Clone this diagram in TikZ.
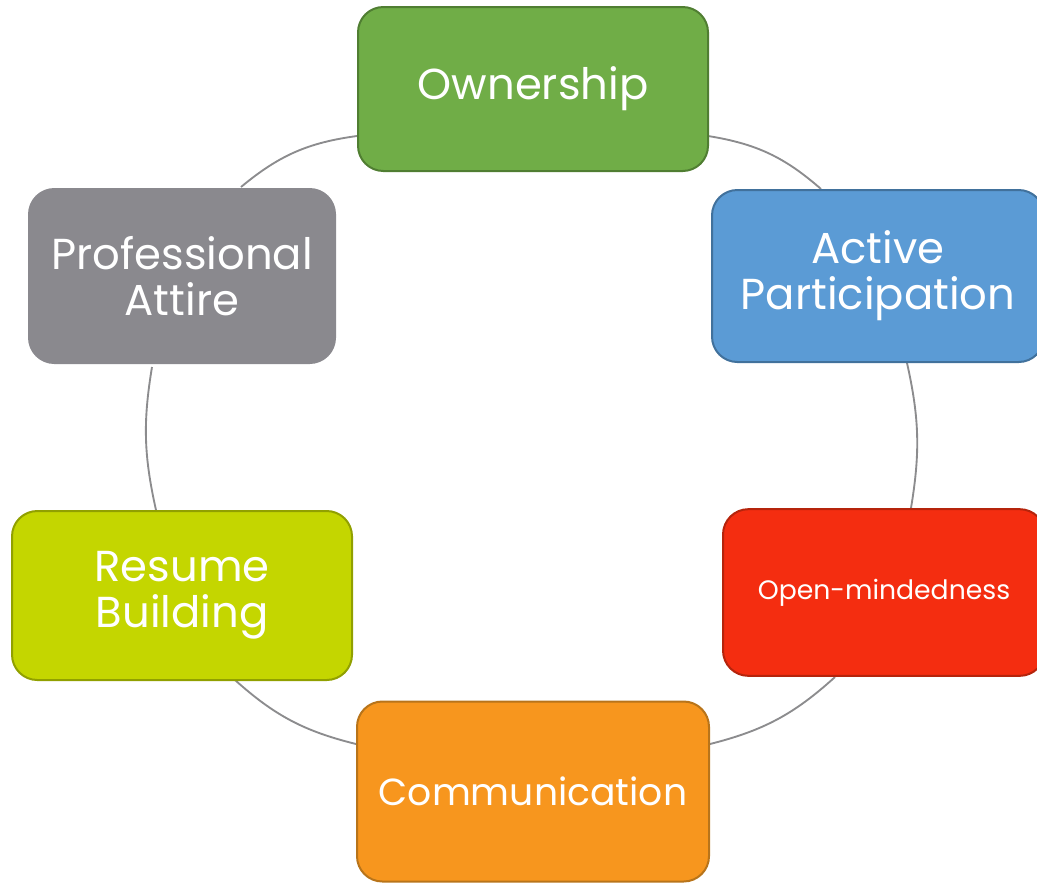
\documentclass[tikz,border=0pt]{standalone}
\usepackage{fontspec}
\setmainfont{Poppins}
\begin{document}
\begin{tikzpicture}[x=0.75pt,y=-0.75pt,
  box/.style={rectangle, rounded corners=19pt, line width=1.5pt, inner sep=0pt,
    text=white, align=center, font=\fontsize{32.5}{34.5}\selectfont},
  link/.style={draw=linkgray, line width=1.4pt}]
\definecolor{linkgray}{HTML}{8C8C8E}
\definecolor{gfill}{HTML}{70AD47}\definecolor{gline}{HTML}{507E32}
\definecolor{bfill}{HTML}{5B9BD5}\definecolor{bline}{HTML}{41719C}
\definecolor{afill}{HTML}{8A898E}
\definecolor{rfill}{HTML}{F42D10}\definecolor{rline}{HTML}{B5240C}
\definecolor{ofill}{HTML}{F7961E}\definecolor{oline}{HTML}{B8741A}
\definecolor{lfill}{HTML}{C4D600}\definecolor{lline}{HTML}{91A000}
\useasboundingbox (0,0) rectangle (1037,882);
% connectors
\coordinate (c1a) at (357,136); \coordinate (c1b) at (241,187);
\coordinate (c2a) at (152,367); \coordinate (c2b) at (156,510);
\coordinate (c3a) at (235,680); \coordinate (c3b) at (356,744);
\coordinate (c4a) at (710,744); \coordinate (c4b) at (835,677);
\coordinate (c5a) at (911,508); \coordinate (c5b) at (907,363);
\coordinate (c6a) at (821,189); \coordinate (c6b) at (708,136);
\draw[link] (c1a) to[bend right=16] (c1b);
\draw[link] (c2a) to[bend right=11] (c2b);
\draw[link] (c3a) to[bend right=14] (c3b);
\draw[link] (c4a) to[bend right=14] (c4b);
\draw[link] (c5a) to[bend right=11] (c5b);
\draw[link] (c6a) to[bend right=16] (c6b);
% boxes
\node[box, fill=gfill, draw=gline, minimum width=262.5pt, minimum height=123pt] (own) at (533,89) {Ownership};
\node[box, fill=bfill, draw=bline, minimum width=249pt, minimum height=129pt] (act) at (878,276) {Active\\Participation};
\node[box, fill=rfill, draw=rline, minimum width=241.5pt, minimum height=125pt, font=\fontsize{20}{24}\selectfont] (open) at (884,592.5) {Open-mindedness};
\node[box, fill=ofill, draw=oline, minimum width=264pt, minimum height=135pt, font=\fontsize{28.3}{34.5}\selectfont] (comm) at (533,791.5) {Communication};
\node[box, fill=lfill, draw=lline, minimum width=255pt, minimum height=126.75pt] (res) at (182,595.5) {Resume\\Building};
\node[box, fill=afill, draw=afill, minimum width=229.5pt, minimum height=130.5pt] (att) at (182,276) {Professional\\Attire};
\end{tikzpicture}
\end{document}
